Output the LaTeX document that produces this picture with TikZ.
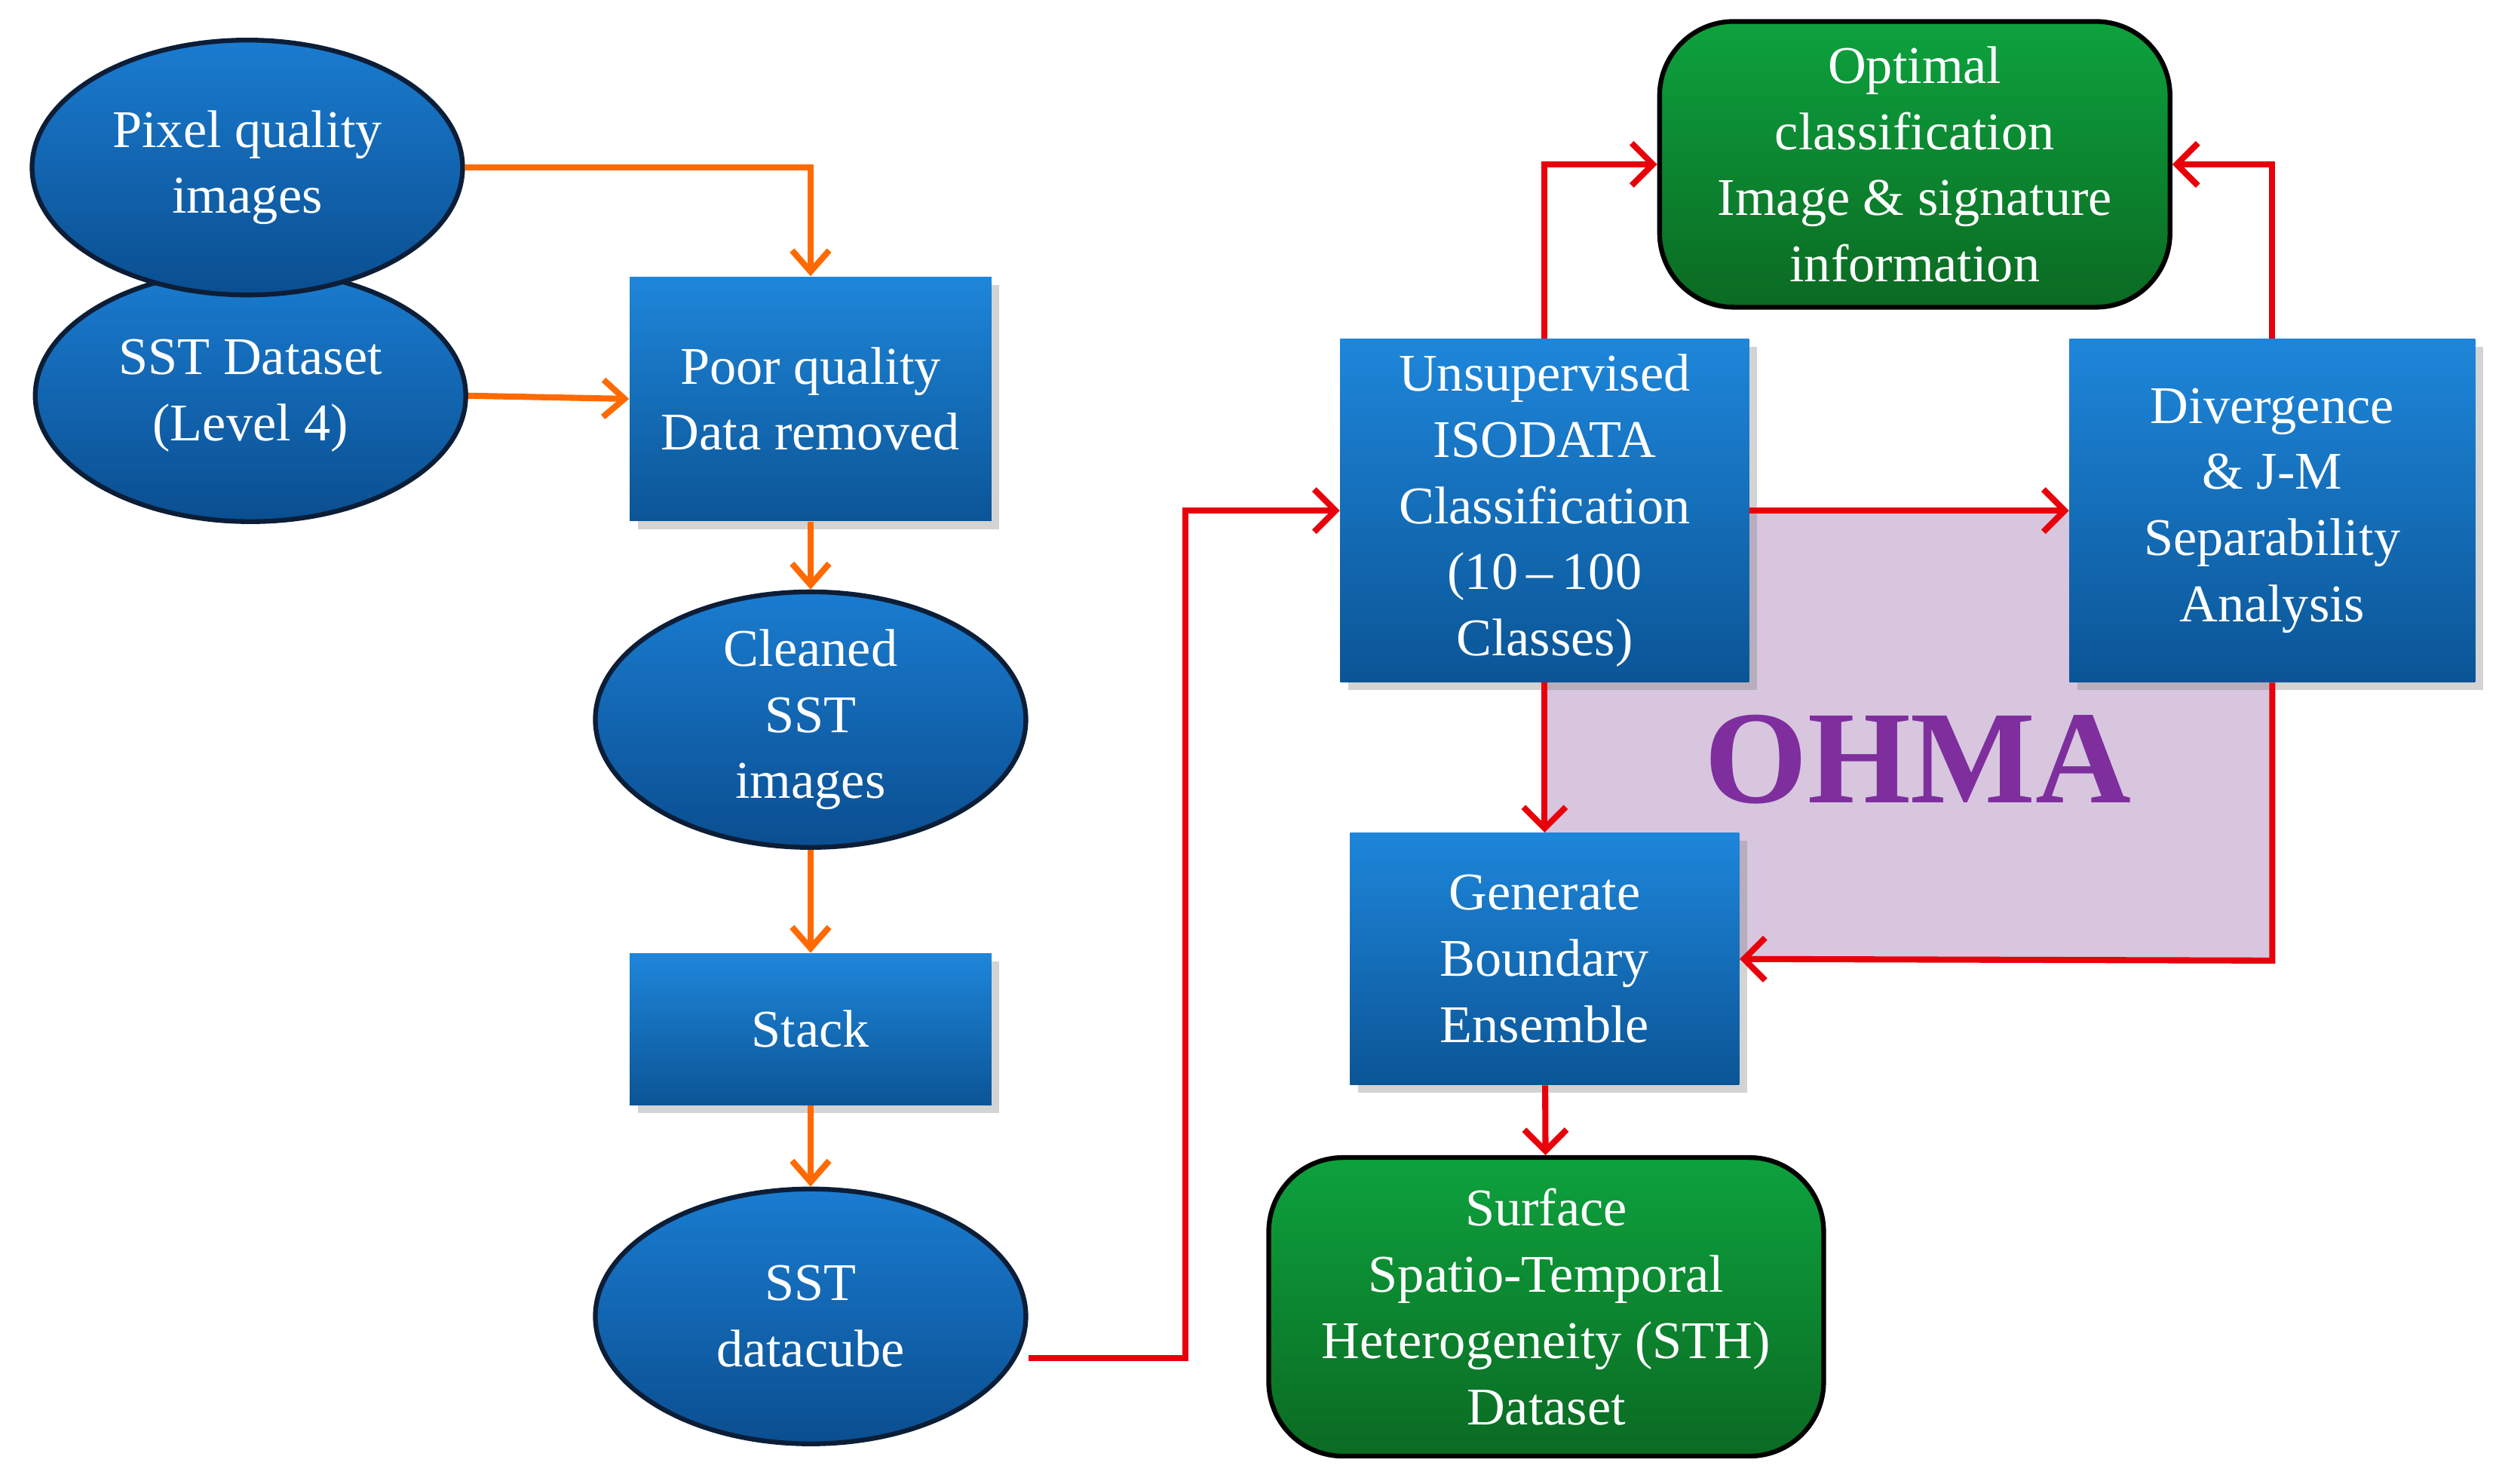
\documentclass[tikz,border=0pt]{standalone}
\usepackage{fontspec}
\setmainfont{Liberation Serif}
\usetikzlibrary{shapes.geometric,arrows.meta,shadows}
\definecolor{btop}{HTML}{1E86DA}
\definecolor{bbot}{HTML}{0B5596}
\definecolor{etop}{HTML}{1A7CD0}
\definecolor{ebot}{HTML}{0A4E90}
\definecolor{gtop}{HTML}{0DA23E}
\definecolor{gbot}{HTML}{0B6A22}
\definecolor{ora}{HTML}{FF6A00}
\definecolor{rd}{HTML}{E8000B}
\definecolor{lil}{HTML}{D7C6DE}
\definecolor{ohma}{HTML}{7F2E9E}
\tikzset{
 x=0.02116cm,y=-0.02116cm,
 txt/.style={text=white,font=\fontsize{20}{25}\selectfont,align=center},
 bx/.style={txt,rectangle,top color=btop,bottom color=bbot,draw=none,inner sep=0pt,drop shadow={shadow xshift=3pt,shadow yshift=-3pt,opacity=.35}},
 el/.style={txt,ellipse,top color=etop,bottom color=ebot,draw={rgb,255:red,12;green,30;blue,55},line width=1.8pt,inner sep=0pt},
 gr/.style={txt,rectangle,rounded corners=28pt,top color=gtop,bottom color=gbot,draw=black,line width=1.8pt,inner sep=0pt},
 oa/.style={draw=ora,line width=2.3pt,-{Straight Barb[length=8pt,width=14pt]}},
 ra/.style={draw=rd,line width=2.3pt,-{Straight Barb[length=8pt,width=16pt]}},
}
\begin{document}
\begin{tikzpicture}
\useasboundingbox (0,0) rectangle (1568,930);
\fill[lil] (968,320) rectangle (1425,602);
\node[font=\bfseries\fontsize{50}{50}\selectfont,text=ohma] (oh) at (1202,476) {OHMA};
\node[el,minimum width=270\pgflinewidth*0+5.71cm,minimum height=3.34cm] (sst) at (157,248) {SST Dataset\\(Level 4)};
\node[el,minimum width=5.71cm,minimum height=3.38cm] (pix) at (155,105) {Pixel quality\\images};
\node[bx,minimum width=4.8cm,minimum height=3.24cm] (poor) at (508,250) {Poor quality\\Data removed};
\node[el,minimum width=5.71cm,minimum height=3.38cm] (clean) at (508,451) {Cleaned\\SST\\images};
\node[bx,minimum width=4.8cm,minimum height=2.01cm] (stack) at (508,645) {Stack};
\node[el,minimum width=5.71cm,minimum height=3.38cm] (cube) at (508,825) {SST\\datacube};
\node[bx,minimum width=5.42cm,minimum height=4.55cm] (uns) at (968,320) {Unsupervised\\ISODATA\\Classification\\(10\,--\,100\\Classes)};
\node[bx,minimum width=5.38cm,minimum height=4.55cm] (div) at (1424,320) {Divergence\\\& J-M\\Separability\\Analysis};
\node[gr,minimum width=6.77cm,minimum height=3.79cm] (opt) at (1200,103) {Optimal\\classification\\Image \& signature\\information};
\node[bx,minimum width=5.16cm,minimum height=3.34cm] (gen) at (968,601) {Generate\\Boundary\\Ensemble};
\node[gr,minimum width=7.36cm,minimum height=3.96cm] (sur) at (969,819) {Surface\\Spatio-Temporal\\Heterogeneity (STH)\\Dataset};
\draw[oa] (pix.east) -- (508,105) -- (poor.north);
\draw[oa] (sst.east) -- (poor.west);
\draw[oa] (poor) -- (clean);
\draw[oa] (clean) -- (stack);
\draw[oa] (stack) -- (cube);
\draw[ra] (cube.east |- 0,851) -- (743,851) -- (743,320) -- (uns.west);
\draw[ra] (uns) -- (div);
\draw[ra] (uns.north) -- (968,103) -- (opt.west);
\draw[ra] (div.north) -- (1424,103) -- (opt.east);
\draw[ra] (uns) -- (gen);
\draw[ra] (div.south) -- (1424,602) -- (gen.east);
\draw[ra] (gen) -- (sur);
\end{tikzpicture}
\end{document}
